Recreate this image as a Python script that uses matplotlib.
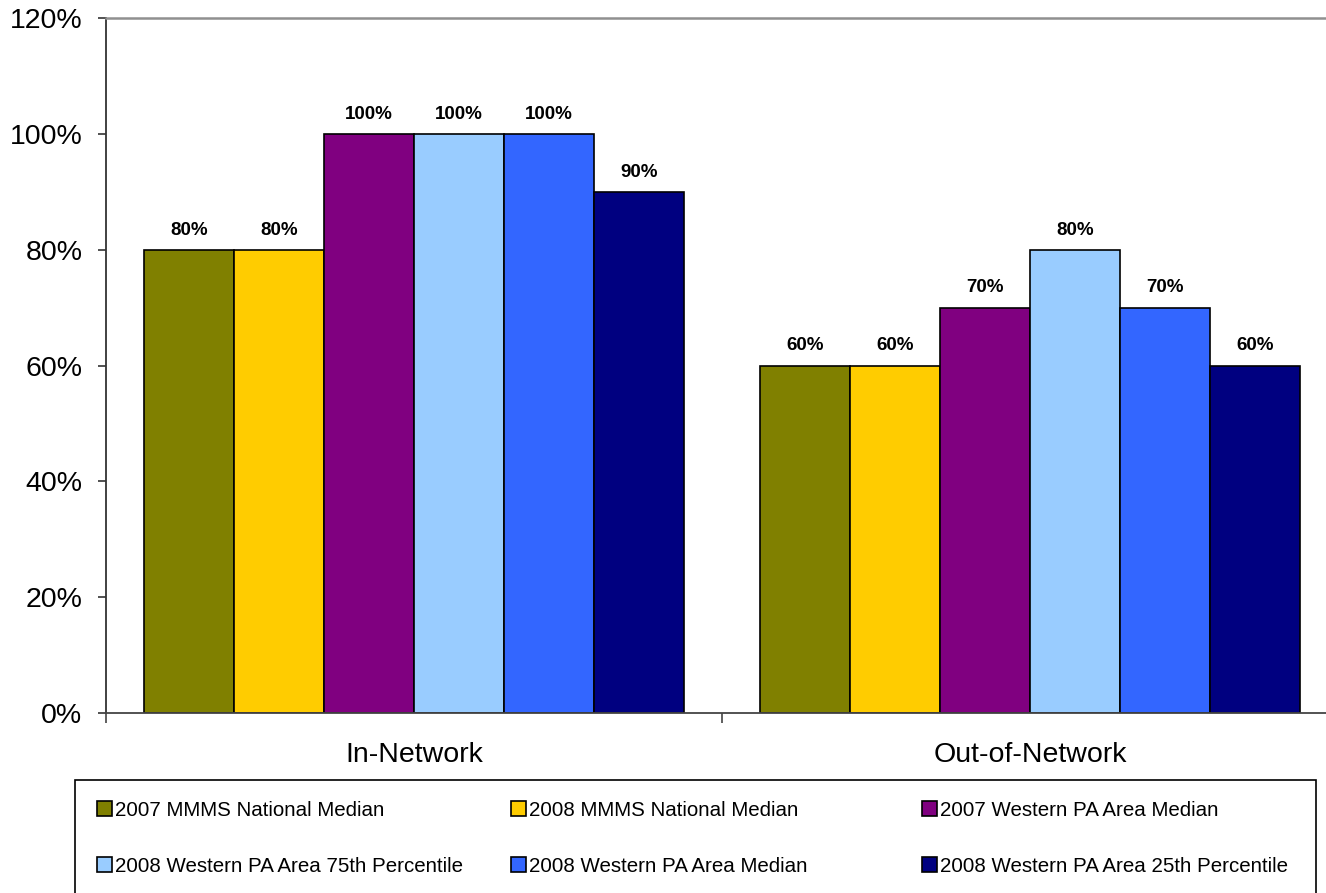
import matplotlib.pyplot as plt
import numpy as np
from matplotlib.patches import Rectangle

plt.rcParams['font.family'] = ['Liberation Sans', 'DejaVu Sans']

# Data
categories = ['In-Network', 'Out-of-Network']
series = ['2007 MMMS National Median',
          '2008 MMMS National Median',
          '2007 Western PA Area Median',
          '2008 Western PA Area 75th Percentile',
          '2008 Western PA Area Median',
          '2008 Western PA Area 25th Percentile']
values = [[80, 60],
          [80, 60],
          [100, 70],
          [100, 80],
          [100, 70],
          [90, 60]]
colors = ['#808000', '#FFCC00', '#800080', '#99CCFF', '#3366FF', '#000080']
y_ticks = [0, 20, 40, 60, 80, 100, 120]

W, H = 1326, 893
fig = plt.figure(figsize=(W / 100, H / 100), dpi=100)
ax = fig.add_axes([106 / W, (H - 713) / H, (1338 - 106) / W, (713 - 18) / H])

x = np.arange(len(categories))
bw = 90 / 616
handles = []
for i, (name, vals, c) in enumerate(zip(series, values, colors)):
    offs = (i - 2.5) * bw
    bars = ax.bar(x + offs, vals, bw, color=c, edgecolor='black', linewidth=1.2, label=name)
    handles.append(bars)
    for xi, v in zip(x + offs, vals):
        ax.annotate(f'{v}%', (xi, v), xytext=(0, 8), textcoords='offset points',
                    ha='center', va='bottom', fontsize=13.5, fontweight='bold')

ax.set_xlim(-0.5, 1.5)
ax.set_ylim(0, 120)
ax.set_yticks(y_ticks)
ax.set_yticklabels([f'{t}%' for t in y_ticks], fontsize=20.5)
ax.tick_params(axis='y', length=6, width=1.2, pad=11, color='#333333')

ax.set_xticks(x)
ax.set_xticklabels(categories, fontsize=20.5)
ax.set_xticks([-0.5, 0.5, 1.5], minor=True)
ax.tick_params(axis='x', which='major', length=0, pad=21)
ax.tick_params(axis='x', which='minor', length=7, width=1.2, color='#444444')

ax.spines['left'].set_color('#333333')
ax.spines['left'].set_linewidth(1.3)
ax.spines['bottom'].set_color('#444444')
ax.spines['bottom'].set_linewidth(1.3)
ax.spines['top'].set_color('#909090')
ax.spines['top'].set_linewidth(1.8)
ax.spines['right'].set_visible(False)

# legend frame
fig.patches.append(Rectangle((75 / W, -0.02), (1316 - 75) / W, (H - 780) / H + 0.02,
                             transform=fig.transFigure, fill=False,
                             edgecolor='black', linewidth=1.2))
# legend, one column at a time
col_x = [97, 511, 922]
for j, cx in enumerate(col_x):
    ks = [j, j + 3]
    fig.legend([handles[k] for k in ks], [series[k] for k in ks],
               loc='center left', bbox_to_anchor=(cx / W, (H - 838) / H),
               fontsize=14.8, frameon=False, handlelength=0.72, handleheight=0.72,
               handletextpad=0.15, labelspacing=1.8, borderpad=0, borderaxespad=0)

fig.savefig('out.png', dpi=100)
